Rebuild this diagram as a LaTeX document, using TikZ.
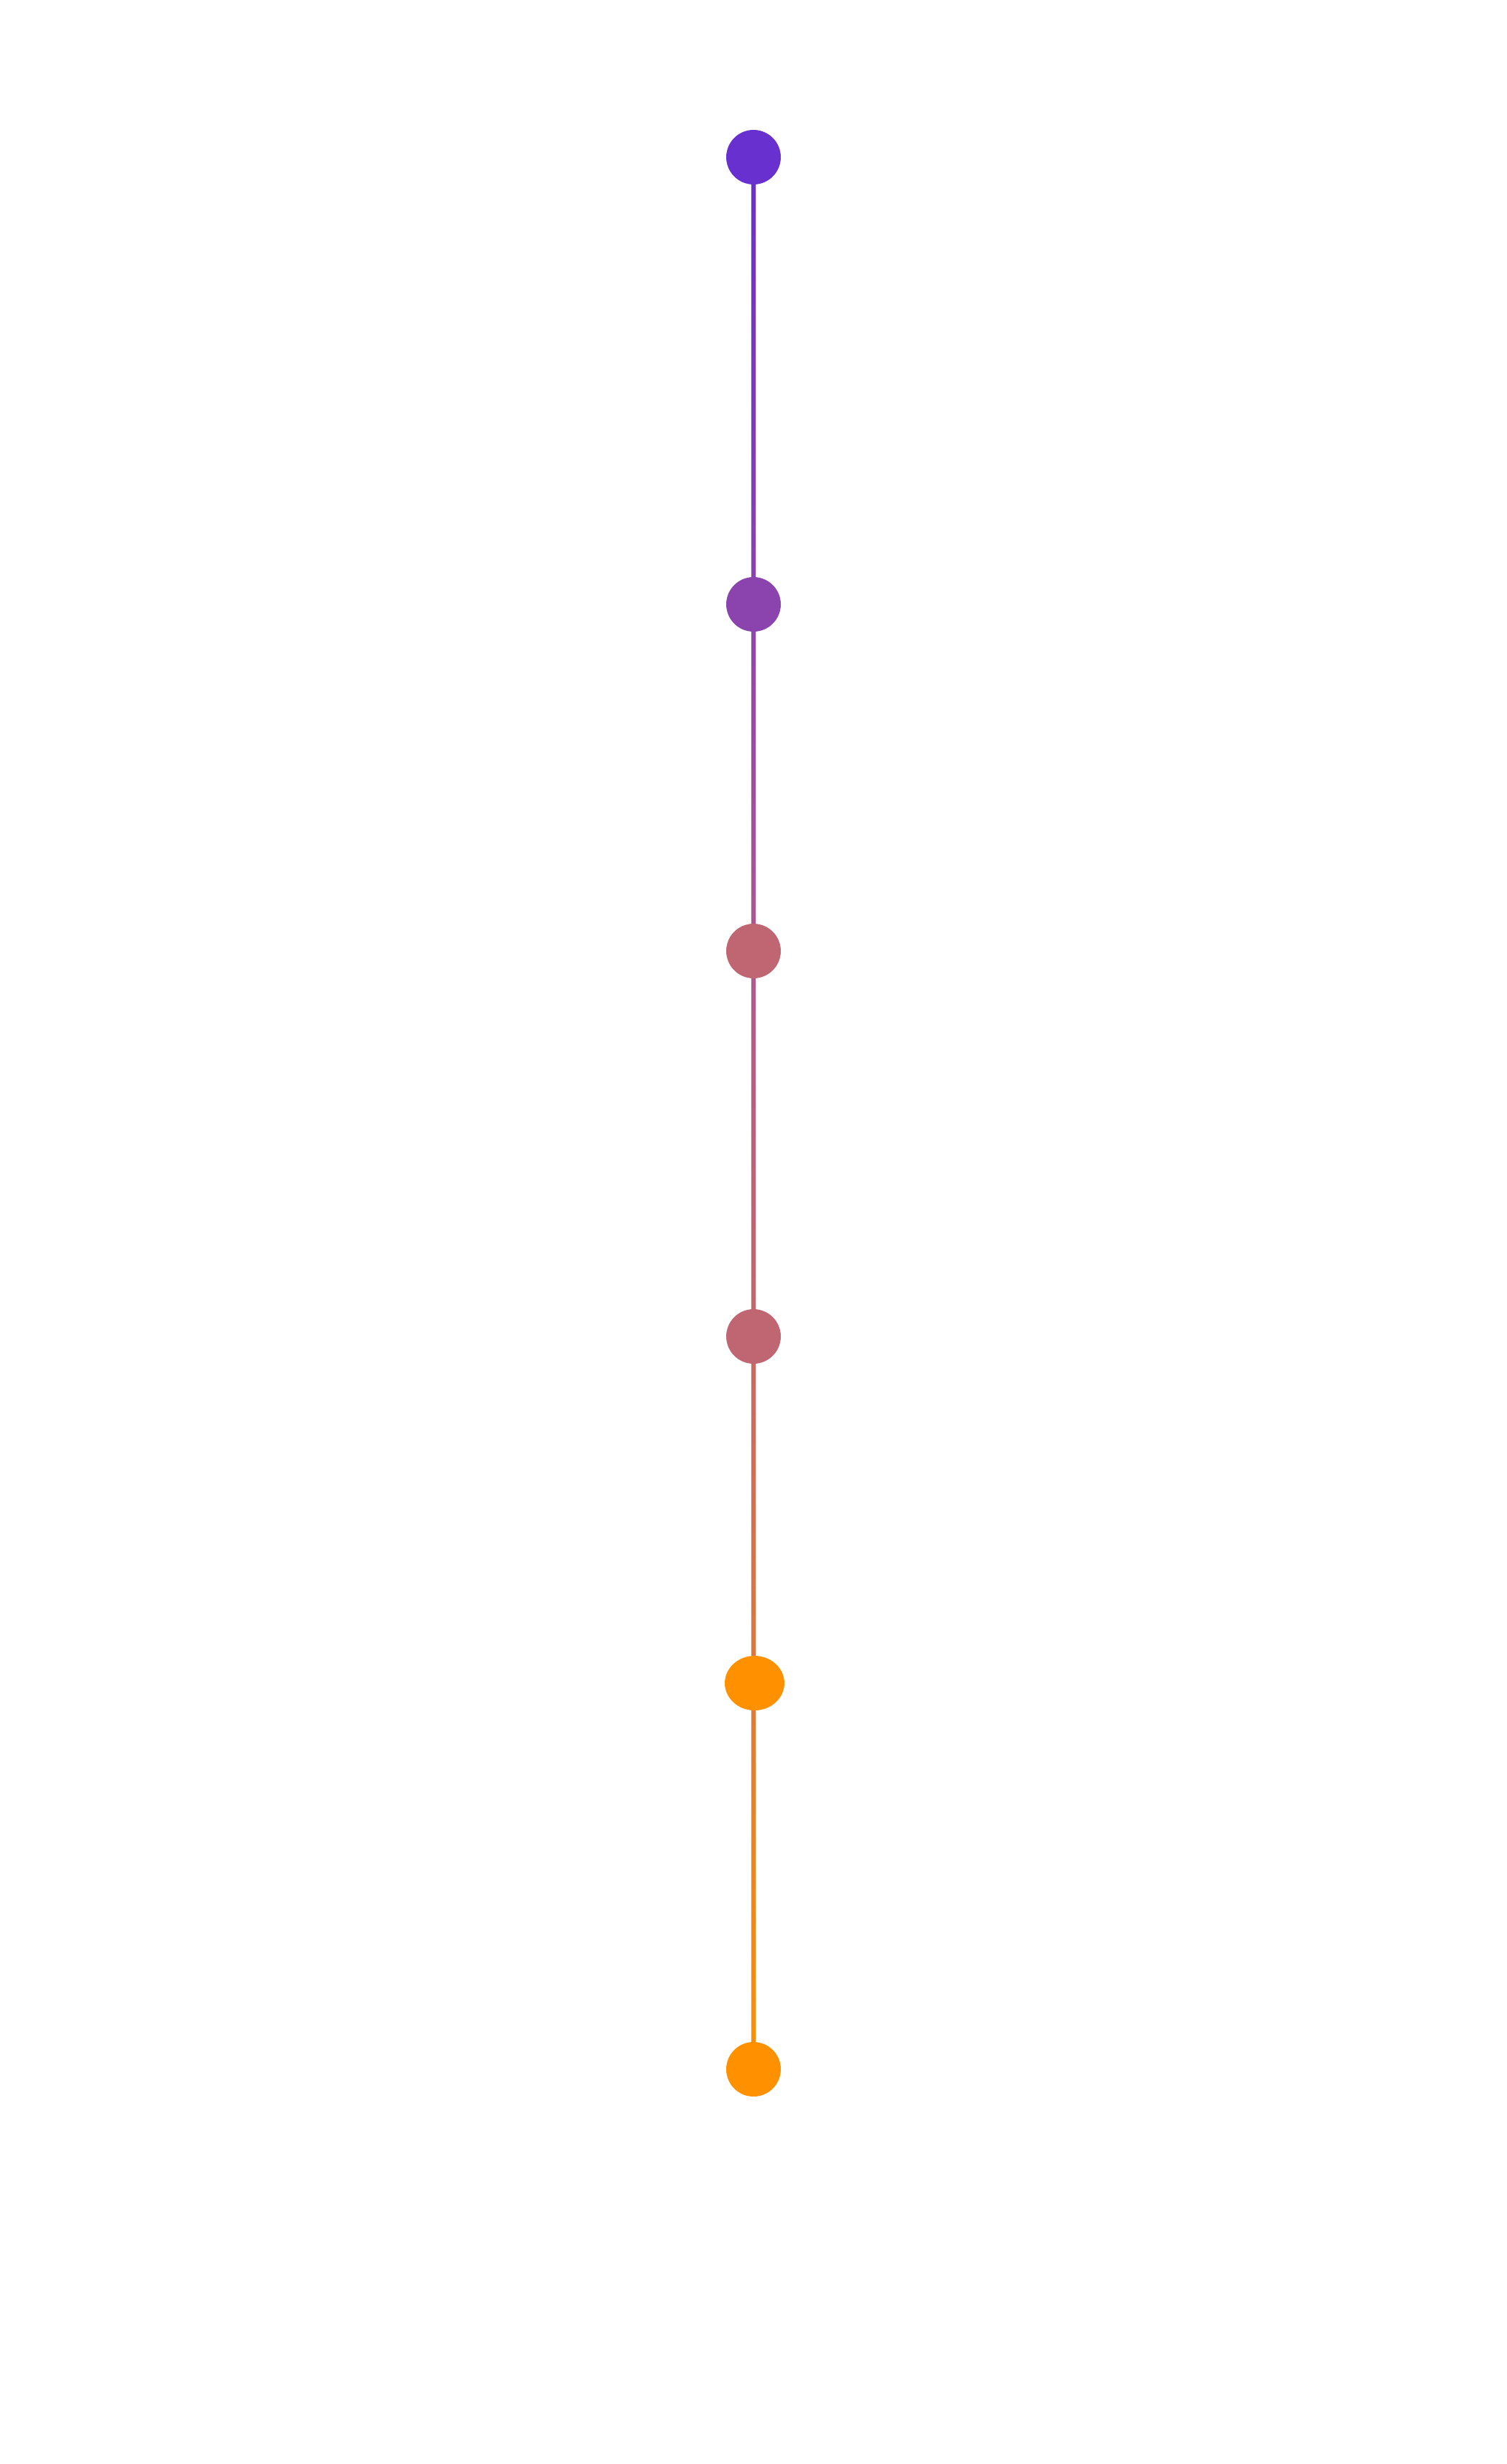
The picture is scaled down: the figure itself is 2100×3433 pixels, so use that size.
\documentclass[tikz,border=0pt]{standalone}
\usetikzlibrary{shapes.geometric,calc}
\definecolor{cA}{HTML}{6930D0}
\definecolor{cB}{HTML}{8B44AE}
\definecolor{cC}{HTML}{BF6672}
\definecolor{cD}{HTML}{FF9100}
\definecolor{lA}{HTML}{6930D0}
\definecolor{lB}{HTML}{8C44B0}
\definecolor{lC}{HTML}{B05890}
\definecolor{lD}{HTML}{C86868}
\definecolor{lE}{HTML}{E07A38}
\definecolor{lF}{HTML}{FF9100}
\begin{document}
\begin{tikzpicture}[x=0.3pt,y=-0.3pt,
  dot/.style={circle,inner sep=0pt,minimum size=22.8pt,draw=none},
  oval/.style={ellipse,inner sep=0pt,minimum width=24.9pt,minimum height=22.8pt,draw=none}]
\useasboundingbox[fill=white] (0,0) rectangle (2100,3433);
\coordinate (p1) at (1050,219);
\coordinate (p2) at (1050,842);
\coordinate (p3) at (1050,1325);
\coordinate (p4) at (1050,1862);
\coordinate (p5) at (1050,2345);
\coordinate (p6) at (1050,2883);
\shade[top color=lA,bottom color=lB] ($(p1)+(-3.2,0)$) rectangle ($(p2)+(3.2,0)$);
\shade[top color=lB,bottom color=lC] ($(p2)+(-3.2,0)$) rectangle ($(p3)+(3.2,0)$);
\shade[top color=lC,bottom color=lD] ($(p3)+(-3.2,0)$) rectangle ($(p4)+(3.2,0)$);
\shade[top color=lD,bottom color=lE] ($(p4)+(-3.2,0)$) rectangle ($(p5)+(3.2,0)$);
\shade[top color=lE,bottom color=lF] ($(p5)+(-3.2,0)$) rectangle ($(p6)+(3.2,0)$);
\node[dot,fill=cA] (n1) at (p1) {};
\node[dot,fill=cB] (n2) at (p2) {};
\node[dot,fill=cC] (n3) at (p3) {};
\node[dot,fill=cC] (n4) at (p4) {};
\node[oval,fill=cD] (n5) at ($(p5)+(1.5,0)$) {};
\node[dot,fill=cD] (n6) at (p6) {};
\end{tikzpicture}
\end{document}
